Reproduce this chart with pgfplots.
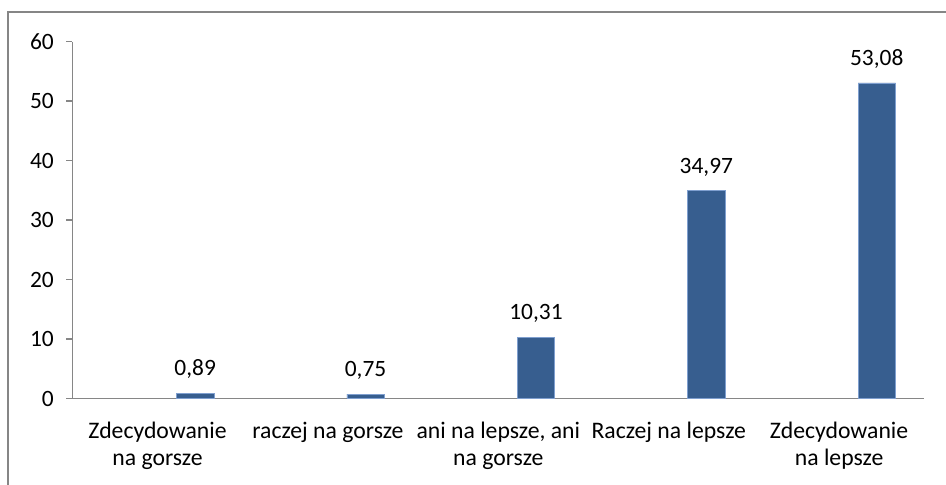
\documentclass[border=0pt]{standalone}
\usepackage{pgfplots}
\pgfplotsset{compat=1.18}
\usepackage{fontspec}
\setmainfont{Carlito}
\definecolor{barblue}{HTML}{375E8F}
\definecolor{baredge}{HTML}{7F9FCF}
\definecolor{axgray}{HTML}{868686}
\begin{document}
\begin{tikzpicture}[x=1bp,y=1bp]
\useasboundingbox (0,0) rectangle (946,485);
\draw[axgray, line width=1.5bp] (8,-5) -- (8,473) -- (950,473);
\begin{axis}[
  at={(72.3bp,86.3bp)}, anchor=south west,
  scale only axis, width=852bp, height=357bp,
  font=\fontsize{23.5}{27}\selectfont,
  xmin=-0.5, xmax=4.5, ymin=0, ymax=60,
  axis x line=bottom, axis y line=left,
  axis line style={axgray, line width=1.5bp, -},
  ytick={0,10,...,60},
  yticklabel style={xshift=-9bp},
  tick style={axgray, line width=1.5bp},
  tick align=outside,
  major tick length=6bp,
  xtick={0,1,2,3,4},
  xticklabels={{Zdecydowanie\\na gorsze},{raczej na gorsze},{ani na lepsze, ani\\na gorsze},{Raczej na lepsze},{Zdecydowanie\\na lepsze}},
  x tick style={draw=none},
  xticklabel style={align=center, anchor=north, yshift=-14bp, font=\fontsize{23.8}{26.7}\selectfont},
  minor xtick={-0.5,0.5,1.5,2.5,3.5,4.5},
  minor tick length=6bp,
  minor x tick style={axgray, line width=1.5bp},
  /pgf/number format/assume math mode=true,
  clip=false,
]
\addplot[ybar, bar width=0.22, bar shift=0, fill=barblue, draw=baredge, line width=0.5bp,
  nodes near coords, point meta=explicit symbolic,
  every node near coord/.append style={font=\fontsize{23.5}{27}\selectfont, black, yshift=11bp}]
  table[meta=label] {
x y label
0.221 0.89 0,89
1.221 0.75 0,75
2.221 10.31 10,31
3.221 34.97 34,97
4.221 53.08 53,08
};
\end{axis}
\end{tikzpicture}
\end{document}
